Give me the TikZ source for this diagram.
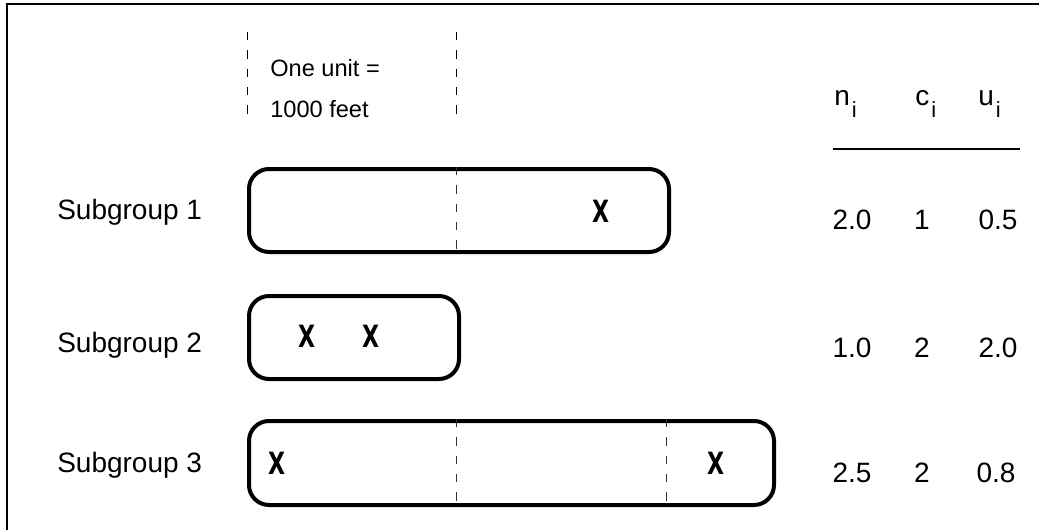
\documentclass[tikz,border=0pt]{standalone}
\usepackage{fontspec}
\setmainfont{Liberation Sans}
\newfontfamily\xfont[FakeStretch=0.72]{DejaVu Sans Bold}
\begin{document}
\begin{tikzpicture}[x=0.75pt,y=-0.75pt,
  lbl/.style={font=\fontsize{21}{21}\selectfont, inner sep=0pt, anchor=base west},
  val/.style={font=\fontsize{21}{21}\selectfont, inner sep=0pt, anchor=base},
  small/.style={font=\fontsize{17.7}{17.7}\selectfont, inner sep=0pt, anchor=base west},
  mark x/.style={font=\xfont\fontsize{23}{23}\selectfont, inner sep=0pt},
  boxst/.style={draw, line width=3pt, rounded corners=15pt, anchor=north west, inner sep=0pt},
  dashline/.style={line width=0.75pt, dash pattern=on 6.25pt off 7.5pt},
  innerdash/.style={line width=0.75pt, dash pattern=on 6.25pt off 7.5pt, black!80}]
\useasboundingbox (0,0) rectangle (1039,529);
% frame
\coordinate (fbl) at (7,535);
\coordinate (ftl) at (7,4);
\coordinate (ftr) at (1045,4);
\draw[line width=1.5pt] (fbl) -- (ftl) -- (ftr);
% scale marks
\coordinate (s1t) at (247,32); \coordinate (s1b) at (247,121);
\coordinate (s2t) at (456,32); \coordinate (s2b) at (456,121);
\draw[dashline] (s1t) -- (s1b);
\draw[dashline] (s2t) -- (s2b);
\node[small] (unit1) at (270,76) {One unit =};
\node[small] (unit2) at (270,117) {1000 feet};
% labels
\node[lbl] (sg1) at (57,219) {Subgroup 1};
\node[lbl] (sg2) at (57,352) {Subgroup 2};
\node[lbl] (sg3) at (57,472) {Subgroup 3};
% boxes
\node[boxst, minimum width=315pt, minimum height=62.25pt] (b1) at (247,167) {};
\node[boxst, minimum width=157.5pt, minimum height=62.25pt] (b2) at (247,294) {};
\node[boxst, minimum width=393.75pt, minimum height=63pt] (b3) at (247,419) {};
% inner dashed unit lines
\draw[innerdash] (b1.north west) ++(209,0) coordinate (d1t) -- (d1t |- b1.south);
\draw[innerdash] (b3.north west) ++(209,0) coordinate (d2t) -- (d2t |- b3.south);
\draw[innerdash] (b3.north west) ++(419,0) coordinate (d3t) -- (d3t |- b3.south);
% defects
\node[mark x] (x1) at (601,211) {X};
\node[mark x] (x2) at (307,336) {X};
\node[mark x] (x3) at (371,336) {X};
\node[mark x] (x4) at (277,463) {X};
\node[mark x] (x5) at (716,463) {X};
% headers
\newcommand{\subi}{\kern1.5pt\raisebox{-9pt}{\fontsize{16.5}{16.5}\selectfont i}}
\node[lbl] (hn) at (834,105) {n\subi};
\node[lbl] (hc) at (915,105) {c\subi};
\node[lbl] (hu) at (978,105) {u\subi};
\coordinate (rl) at (833,149);
\coordinate (rr) at (1020,149);
\draw[line width=1.5pt] (rl) -- (rr);
% values
\node[val] (n1) at (852,229) {2.0};
\node[val] (c1) at (922,229) {1};
\node[val] (u1) at (998,229) {0.5};
\node[val] (n2) at (852,357) {1.0};
\node[val] (c2) at (922,357) {2};
\node[val] (u2) at (998,357) {2.0};
\node[val] (n3) at (852,482) {2.5};
\node[val] (c3) at (922,482) {2};
\node[val] (u3) at (996,482) {0.8};
\end{tikzpicture}
\end{document}
